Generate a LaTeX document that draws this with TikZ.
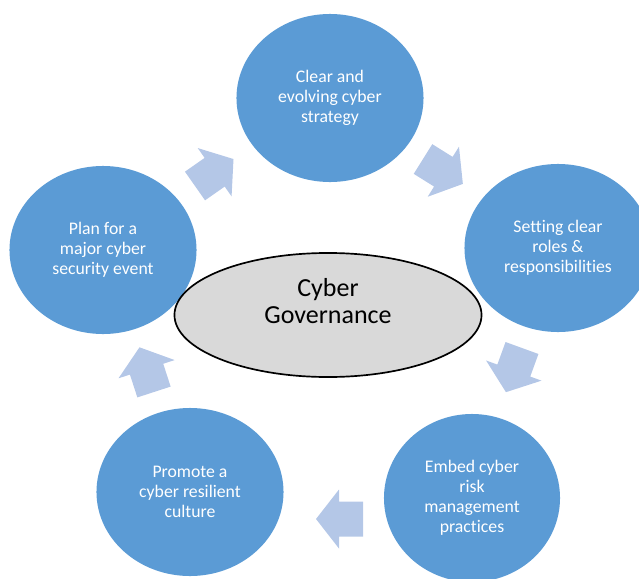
\documentclass[tikz,border=0pt]{standalone}
\usepackage{fontspec}
\setmainfont{Carlito}[Ligatures=NoCommon]
\usetikzlibrary{shapes.geometric}
\definecolor{stepblue}{RGB}{91,155,213}
\definecolor{flowblue}{RGB}{180,199,231}
\definecolor{govgrey}{RGB}{217,217,217}
\begin{document}
\begin{tikzpicture}[x=0.025cm, y=-0.025cm,
	practice/.style={ellipse, fill=stepblue, minimum width=4.675cm, minimum height=4.2cm, inner sep=0pt, text=white, align=center, font=\fontsize{12.6}{14.2}\selectfont},
	flow/.pic={\fill[flowblue] (0,-17.5) -- (24,-17.5) -- (24,-29.5) -- (47,0) -- (24,29.5) -- (24,17.5) -- (0,17.5) -- cycle;},
	govtext/.style={align=center, yshift=0.35cm, font=\fontsize{18.5}{18.8}\selectfont}]
		\clip (0,0) rectangle (639,579);

		\node (strategy) [practice] at (330,98) {Clear and\\evolving cyber\\strategy};
		\node (roles) [practice] at (558,248) {Setting clear\\roles \&\\responsibilities};
		\node (risk) [practice, minimum width=4.4cm] at (472,498) {Embed cyber\\risk\\management\\practices};
		\node (culture) [practice] at (190,492) {Promote a\\cyber resilient\\culture};
		\node (plan) [practice] at (103,250) {Plan for a\\major cyber\\security event};

		\pic (plantostrategy) [rotate=35] at (195,186) {flow};
		\pic (strategytoroles) [rotate=-32] at (423,159) {flow};
		\pic (rolestorisk) [rotate=-110] at (522,348) {flow};
		\pic (risktoculture) [rotate=180] at (363,519) {flow};
		\pic (culturetoplan) [rotate=108] at (154,392) {flow};

		\node (gov) [ellipse, draw, line width=1.2pt, fill=govgrey, minimum width=7.675cm, minimum height=3.1cm, label={[govtext]center:Cyber\\Governance}] at (328,315) {};
	\end{tikzpicture}
\end{document}
